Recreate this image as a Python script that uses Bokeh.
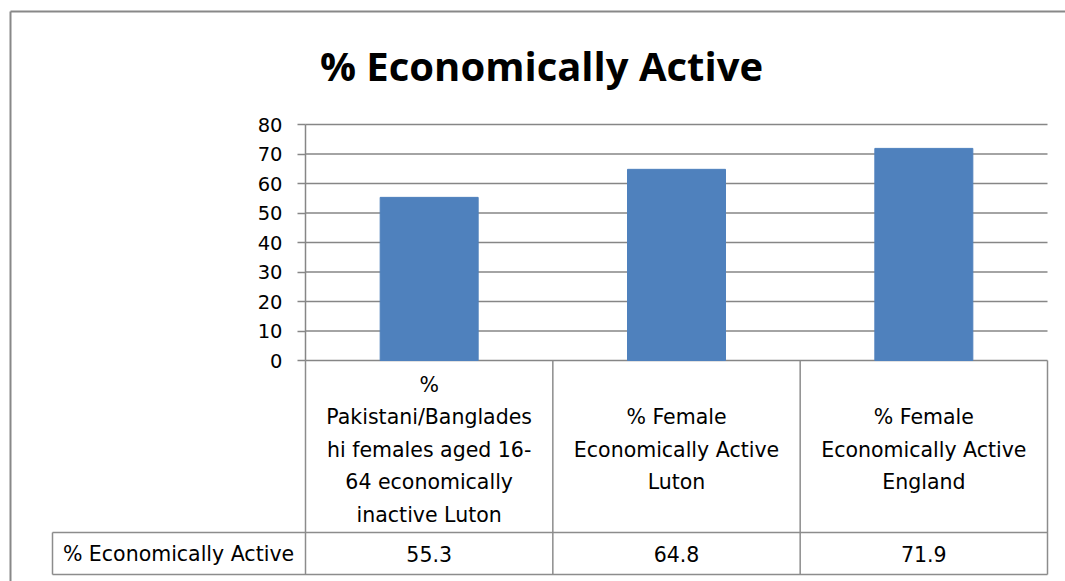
from bokeh.plotting import figure
from bokeh.models import Range1d, FixedTicker, LinearAxis, ColumnDataSource
from bokeh.embed import file_html
from bokeh.resources import INLINE
from bokeh.core.properties import value

# ---------------- data ----------------
title_text = "% Economically Active"
series_name = "% Economically Active"
categories = [
    "% Pakistani/Bangladeshi females aged 16-64 economically inactive Luton",
    "% Female Economically Active Luton",
    "% Female Economically Active England",
]
category_label_lines = [
    ["%", "Pakistani/Banglades", "hi females aged 16-", "64 economically", "inactive Luton"],
    ["% Female", "Economically Active", "Luton"],
    ["% Female", "Economically Active", "England"],
]
values = [55.3, 64.8, 71.9]
value_labels = ["55.3", "64.8", "71.9"]
y_ticks = [0, 10, 20, 30, 40, 50, 60, 70, 80]

# ---------------- layout (page pixels) ----------------
W, H = 1065, 581
OX, OY = 0, 0
AX_LEFT, AX_RIGHT = 305, 1047
Y_TOP_PX, Y0_PX = 124, 360
n_cat = len(categories)
ppx = (AX_RIGHT - AX_LEFT) / n_cat
ppy = (Y0_PX - Y_TOP_PX) / y_ticks[-1]


def xd(px):
    return 0.5 + (px - AX_LEFT) / ppx


def yd(py):
    return (Y0_PX - py) / ppy


GRID = "#868686"
TABLE = "#8c8c8c"
BAR = "#4F81BD"
TXT = "#000000"
TABLE_FONT_SIZE = "20.5px"

p = figure(width=W, height=H,
           x_range=Range1d(xd(OX), xd(OX + W)),
           y_range=Range1d(yd(OY + H), yd(OY)),
           x_axis_type=None, y_axis_type=None,
           toolbar_location=None, output_backend="svg",
           min_border=0, min_border_left=0, min_border_right=0,
           min_border_top=0, min_border_bottom=0,
           outline_line_color=None, background_fill_color="white",
           border_fill_color="white")

# outer chart border
p.segment(x0=[xd(10), xd(10)], y0=[yd(11), yd(11)],
          x1=[xd(OX + W + 5), xd(10)], y1=[yd(11), yd(OY + H + 5)],
          line_color="#888888", line_width=2)

# gridlines (from ticks)
x_lo, x_hi = 0.5, n_cat + 0.5
p.segment(x0=[x_lo] * len(y_ticks), x1=[x_hi] * len(y_ticks),
          y0=y_ticks, y1=y_ticks, line_color=GRID, line_width=1.5)

# bars
cats_x = [i + 1 for i in range(n_cat)]
src = ColumnDataSource(dict(x=cats_x, top=values, cat=categories))
p.vbar(x="x", top="top", width=98 / ppx, source=src,
       fill_color=BAR, line_color=BAR)

# y axis
yaxis = LinearAxis(fixed_location=0.5, ticker=FixedTicker(ticks=y_ticks),
                   bounds=(y_ticks[0], y_ticks[-1]))
yaxis.axis_line_color = GRID
yaxis.axis_line_width = 1.5
yaxis.major_tick_line_color = GRID
yaxis.major_tick_line_width = 1.5
yaxis.major_tick_out = 8
yaxis.major_tick_in = 0
yaxis.minor_tick_out = 0
yaxis.minor_tick_in = 0
yaxis.major_label_standoff = 15
yaxis.major_label_text_font = "DejaVu Sans"
yaxis.major_label_text_font_size = "19.5px"
yaxis.major_label_text_color = TXT
p.add_layout(yaxis, "left")

# data table lines
tb_sep, tb_bot, tb_left = yd(532), yd(574), xd(52)
vx = [0.5 + i for i in range(n_cat + 1)]
p.segment(x0=vx, x1=vx, y0=[0] * len(vx), y1=[tb_bot] * len(vx),
          line_color=TABLE, line_width=1.5)
p.segment(x0=[tb_left, tb_left, tb_left], x1=[x_hi, x_hi, tb_left],
          y0=[tb_sep, tb_bot, tb_sep], y1=[tb_sep, tb_bot, tb_bot],
          line_color=TABLE, line_width=1.5)

# header cell texts
hx, hy, ht = [], [], []
for i, lines in enumerate(category_label_lines):
    n = len(lines)
    for k, s in enumerate(lines):
        hx.append(cats_x[i])
        hy.append(yd(449 + (k - (n - 1) / 2) * 32.5))
        ht.append(s)
p.text(x=hx, y=hy, text=ht, text_font=value("DejaVu Sans"),
       text_font_size=TABLE_FONT_SIZE, text_color=TXT,
       text_align="center", text_baseline="middle")

# value row
p.text(x=cats_x, y=[yd(553)] * n_cat, text=value_labels,
       text_font=value("DejaVu Sans"), text_font_size=TABLE_FONT_SIZE,
       text_color=TXT, text_align="center", text_baseline="middle")
p.text(x=[xd(178)], y=[yd(553)], text=[series_name],
       text_font=value("DejaVu Sans"), text_font_size=TABLE_FONT_SIZE,
       text_color=TXT, text_align="center", text_baseline="middle")

# title
p.text(x=[xd(541)], y=[yd(65)], text=[title_text],
       text_font=value("Open Sans"), text_font_style="bold",
       text_font_size="40px", text_color=TXT,
       text_align="center", text_baseline="middle")

open("out.html", "w").write(file_html(p, INLINE))
